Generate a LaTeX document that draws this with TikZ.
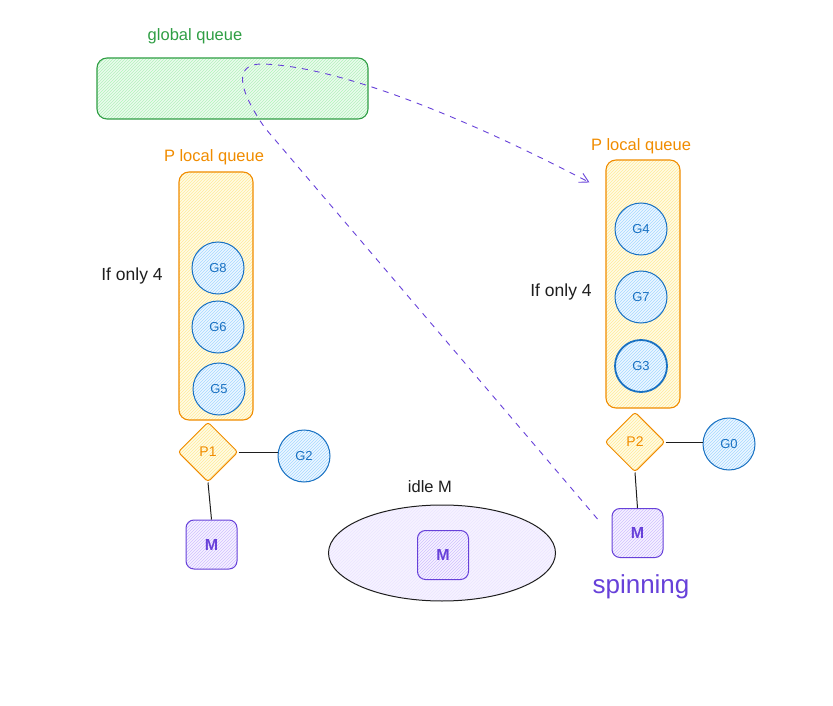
\documentclass[tikz,border=0pt]{standalone}
\usepackage{fontspec}
\setmainfont{Liberation Sans}
\usetikzlibrary{shapes.geometric,patterns,arrows.meta}
\definecolor{gline}{HTML}{2F9E44}
\definecolor{gfill}{HTML}{EBFBEE}
\definecolor{ghatch}{HTML}{B2F2BB}
\definecolor{oline}{HTML}{F08C00}
\definecolor{ofill}{HTML}{FFFBE6}
\definecolor{ohatch}{HTML}{FFEC99}
\definecolor{bline}{HTML}{1971C2}
\definecolor{bfill}{HTML}{EDF7FF}
\definecolor{bhatch}{HTML}{A5D8FF}
\definecolor{pline}{HTML}{6741D9}
\definecolor{pfill}{HTML}{F6F3FF}
\definecolor{phatch}{HTML}{D0BFFF}
\definecolor{ink}{HTML}{1E1E1E}
\begin{document}
\begin{tikzpicture}[x=1pt,y=-1pt,
  lbl/.style={font=\fontsize{16.5}{18}\selectfont},
  gqueue/.style={draw=gline,line width=1.1pt,rounded corners=10pt,preaction={fill=gfill},pattern=north east lines,pattern color=ghatch,minimum width=271pt,minimum height=61pt},
  lqueue/.style={draw=oline,line width=1.1pt,rounded corners=10pt,preaction={fill=ofill},pattern=north east lines,pattern color=ohatch,minimum width=74pt,minimum height=248pt},
  gor/.style={circle,draw=bline,line width=1pt,preaction={fill=bfill},pattern=north east lines,pattern color=bhatch,minimum size=52pt,inner sep=0pt,text=bline,font=\fontsize{13}{15}\selectfont},
  proc/.style={diamond,draw=oline,line width=1pt,rounded corners=3pt,preaction={fill=ofill},pattern=north east lines,pattern color=ohatch,minimum size=60pt,inner sep=0pt,text=oline,font=\fontsize{14}{16}\selectfont},
  mach/.style={draw=pline,line width=1pt,rounded corners=8pt,preaction={fill=pfill},pattern=north east lines,pattern color=phatch,minimum width=51pt,minimum height=49pt,text=pline,font=\fontsize{16}{18}\selectfont\bfseries},
  link/.style={draw=ink,line width=1pt},
  steal/.style={draw=pline,line width=0.9pt,dash pattern=on 6pt off 6pt,-{Straight Barb[length=9pt,width=10pt]}}
]
\useasboundingbox (0,0) rectangle (833,706);

% global queue
\node[gqueue] (gq) at (232.5,88.5) {};
\node[lbl,text=gline] (gqlabel) at (195,36) {global queue};

% left P
\node[lqueue] (lq1) at (216,296) {};
\node[lbl,text=oline] (lq1label) at (214,157) {P local queue};
\node[lbl,text=ink,font=\fontsize{17.5}{20}\selectfont] (if1) at (132,276) {If only 4};
\node[gor] (g8) at (218,268) {G8};
\node[gor] (g6) at (218,327) {G6};
\node[gor] (g5) at (219,389) {G5};
\node[proc] (p1) at (208,452) {P1};
\node[gor] (g2) at (304,456) {G2};
\node[mach] (m1) at (211.5,544.5) {M};
\draw[link] (p1.east) -- (p1.east -| g2.west);
\draw[link] (p1.south) -- (m1.north);

% right P
\node[lqueue] (lq2) at (643,284) {};
\node[lbl,text=oline] (lq2label) at (641,146) {P local queue};
\node[lbl,text=ink,font=\fontsize{17.5}{20}\selectfont] (if2) at (561,292) {If only 4};
\node[gor] (g4) at (641,229) {G4};
\node[gor] (g7) at (641,297) {G7};
\node[gor,line width=1.8pt] (g3) at (641,366) {G3};
\node[proc] (p2) at (635,442) {P2};
\node[gor] (g0) at (729,444) {G0};
\node[mach] (m2) at (637.5,533) {M};
\node[text=pline,font=\fontsize{26}{30}\selectfont] (spin) at (641,587) {spinning};
\draw[link] (p2.east) -- (p2.east -| g0.west);
\draw[link] (p2.south) -- (m2.north);

% idle M
\node[ellipse,draw=ink,line width=1pt,preaction={fill=pfill},pattern=north east lines,pattern color=phatch!40,minimum width=227pt,minimum height=96pt] (idle) at (442,553) {};
\node[lbl,text=ink] (idlelabel) at (430,487) {idle M};
\node[mach] (m3) at (443,555) {M};

% stealing path
\coordinate (s) at ([xshift=-14pt,yshift=-11pt]m2.north west);
\coordinate (t) at ([xshift=-16pt,yshift=-23pt]lq2.north west);
\draw[steal] (s) -- (265,128) .. controls (242,95) and (230,64) .. (262,64) .. controls (340,66) and (470,120) .. (t);
\end{tikzpicture}
\end{document}
